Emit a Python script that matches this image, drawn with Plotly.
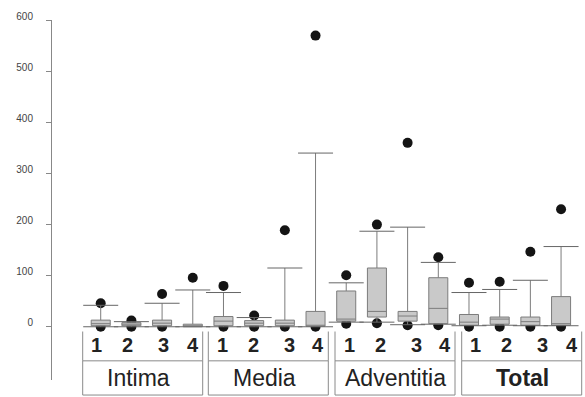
import plotly.graph_objects as go

groups = ["Intima", "Media", "Adventitia", "Total"]
sub_labels = ["1", "2", "3", "4"]

lower_fence = [0, 0, 0, 0,   0, 0, 0, 0,   9, 9, 4, 5,     2, 3, 2, 2]
q1 =          [2, 2, 2, 0,   2, 2, 2, 1,   11, 19, 11, 6,  3, 5, 3, 3]
median =      [6, 5, 7, 1,   11, 7, 7, 2,  15, 30, 21, 36, 9, 15, 10, 6]
q3 =          [13, 8, 13, 5, 20, 12, 13, 30, 70, 115, 30, 96, 24, 19, 19, 59]
upper_fence = [42, 10, 46, 72, 67, 18, 115, 340, 86, 187, 195, 126, 67, 73, 91, 157]
upper_outlier = [46, 12, 64, 96, 80, 22, 189, 570, 101, 200, 360, 136, 86, 88, 147, 230]
lower_outlier = [0, 0, 0, None, 0, 0, 0, 0, 6, 7, 3, 3, 0, 0, 0, 0]

y_ticks = [0, 100, 200, 300, 400, 500, 600]

W, H = 585, 397
positions = list(range(len(q1)))

def px(v):
    return v / W

def py(v):
    return (H - v) / H

fig = go.Figure()

# outlier dots (drawn beneath the boxes)
dot_x = [p for p, v in zip(positions, upper_outlier) if v is not None] + \
        [p for p, v in zip(positions, lower_outlier) if v is not None]
dot_y = [v for v in upper_outlier if v is not None] + [v for v in lower_outlier if v is not None]
fig.add_trace(go.Scatter(x=dot_x, y=dot_y, mode="markers",
                         marker=dict(size=10, color="#141414"),
                         showlegend=False, hoverinfo="skip", yaxis="y"))

fig.add_trace(go.Box(x=positions, q1=q1, median=median, q3=q3,
                     lowerfence=lower_fence, upperfence=upper_fence,
                     width=0.62, whiskerwidth=0, boxpoints=False,
                     fillcolor="#c9c9c9", line=dict(color="#7c7c7c", width=1),
                     showlegend=False, yaxis="y2"))

fig.add_trace(go.Scatter(x=positions + positions, y=lower_fence + upper_fence,
                         mode="markers",
                         marker=dict(symbol="line-ew", size=25,
                                     line=dict(color="#666666", width=1)),
                         showlegend=False, hoverinfo="skip", yaxis="y2"))

yr = [-105, 601]
fig.update_layout(
    width=W, height=H,
    margin=dict(l=0, r=0, t=0, b=0),
    paper_bgcolor="white", plot_bgcolor="white",
    font=dict(family="Liberation Sans, Arial, sans-serif", color="#222"),
    xaxis=dict(domain=[52 / W, 1], range=[-1.587, 15.78], visible=False, showgrid=False),
    yaxis=dict(domain=[(H - 380) / H, (H - 11) / H], range=yr,
               tickvals=y_ticks, ticks="outside", ticklen=5, tickcolor="#888",
               showline=True, linecolor="#888", linewidth=1, showgrid=False,
               zeroline=False, tickfont=dict(size=10, color="#444"),
               ticklabelstandoff=11, ticklabelshift=-4),
    yaxis2=dict(overlaying="y", range=yr, visible=False, showgrid=False, zeroline=False),
)

group_left = [82.7, 208.3, 335, 461.7]
group_w = 120
name_shift = [-4, -4, 0, 1]
num_offsets = [14, 45, 81, 110]
shapes = []
annotations = []
for gi, g in enumerate(groups):
    L = group_left[gi]
    R = L + group_w
    line = dict(color="#8a8a8a", width=1)
    shapes.append(dict(type="rect", xref="paper", yref="paper",
                       x0=px(L), x1=px(R), y0=py(395), y1=py(360), line=line))
    for xv in (L, R):
        shapes.append(dict(type="line", xref="paper", yref="paper",
                           x0=px(xv), x1=px(xv), y0=py(360), y1=py(330), line=line))
    for si, s in enumerate(sub_labels):
        annotations.append(dict(text="<b>%s</b>" % s, xref="paper", yref="paper",
                                x=px(L + num_offsets[si]), y=py(344),
                                xanchor="center", yanchor="middle", showarrow=False,
                                font=dict(size=20, color="#222")))
    txt = "<b>%s</b>" % g if g == "Total" else g
    annotations.append(dict(text=txt, xref="paper", yref="paper",
                            x=px((L + R) / 2 + name_shift[gi]), y=py(378),
                            xanchor="center", yanchor="middle", showarrow=False,
                            font=dict(size=23, color="#222")))

fig.update_layout(shapes=shapes, annotations=annotations)
fig.write_html("out.html", config={"displayModeBar": False},
               post_script="document.body.style.margin='0';document.body.style.overflow='hidden';")
